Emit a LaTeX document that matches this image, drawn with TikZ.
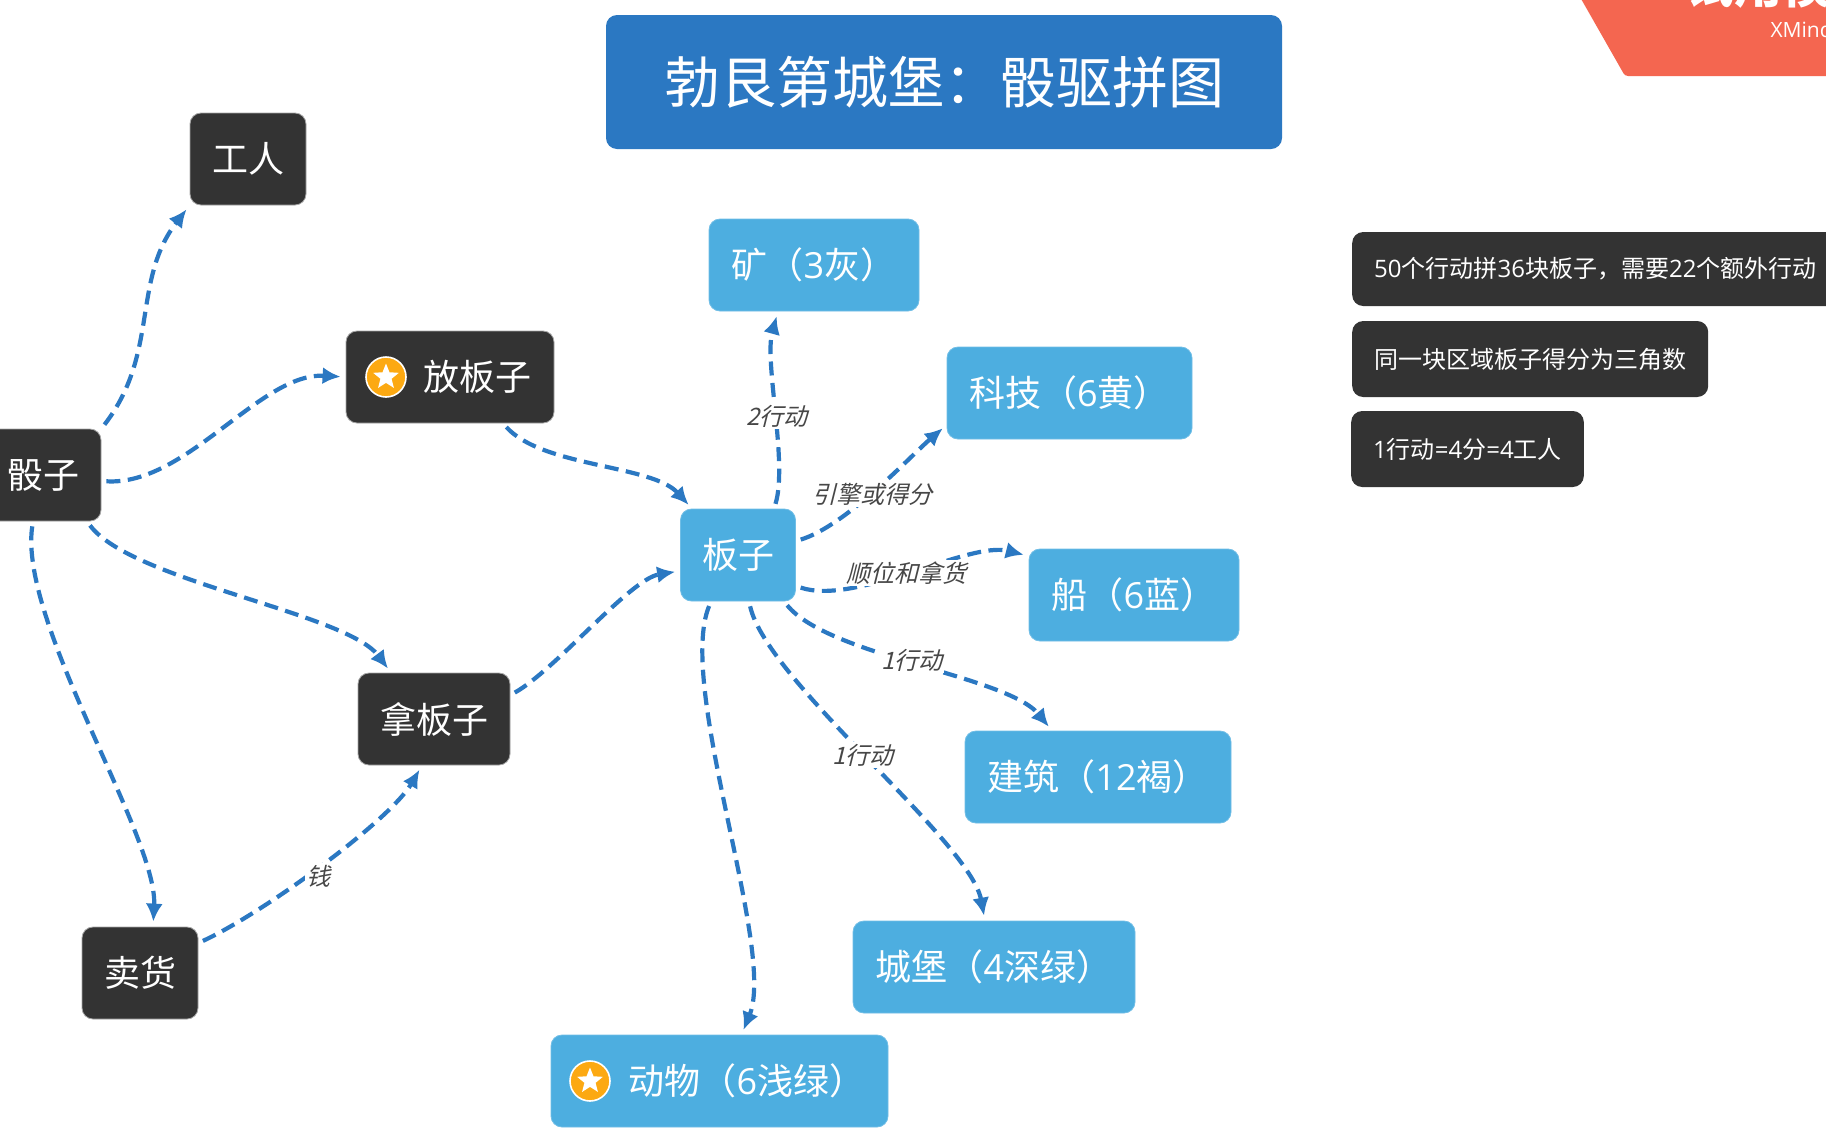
\documentclass[tikz,border=0pt]{standalone}
\usepackage{fontspec}
\setmainfont{Noto Sans CJK SC}
\newfontfamily\slantfont[FakeSlant=0.25]{Noto Sans CJK SC}
\newfontfamily\markfont{Open Sans}
\newcommand{\dg}[1]{{\markfont #1}}
\usetikzlibrary{arrows.meta,shapes.geometric}
\definecolor{boxdark}{HTML}{333333}
\definecolor{boxblue}{HTML}{4DAEE0}
\definecolor{titleblue}{HTML}{2B78C2}
\definecolor{trialred}{HTML}{F46650}
\definecolor{staryellow}{HTML}{FCA912}
\tikzset{
	x=1pt, y=-1pt,
	darkbox/.style={fill=boxdark, draw=black!35, line width=0.8pt, rounded corners=11pt, text=white, minimum height=92pt, font=\fontsize{36}{36}\selectfont, inner sep=0pt},
	bluebox/.style={fill=boxblue, draw=boxblue!80!white, line width=0.8pt, rounded corners=11pt, text=white, minimum height=92pt, font=\fontsize{36}{36}\selectfont, inner sep=0pt},
	notebox/.style={fill=boxdark, rounded corners=11pt, text=white, anchor=west, inner xsep=22pt, inner ysep=0pt, font=\fontsize{24}{24}\selectfont},
	titlebox/.style={fill=titleblue, rounded corners=11pt, text=white, minimum width=676pt, minimum height=134pt, font=\fontsize{56}{56}\selectfont},
	link/.style={draw=titleblue, line width=4.2pt, dash pattern=on 14pt off 7.5pt, -{Latex[length=18pt,width=17pt]}, shorten <=5pt, shorten >=5pt},
	linklabel/.style={fill=white, text=black!72, inner sep=1.5pt, font=\fontsize{24}{24}\slantfont},
	staricon/.style={circle, fill=staryellow, draw=white, line width=1.6pt, minimum size=40pt, inner sep=0pt},
	starmark/.style={star, star points=5, star point ratio=2.3, fill=white, minimum size=27pt, inner sep=0pt},
}
\begin{document}
\begin{tikzpicture}
		\useasboundingbox (0, 0) rectangle (1826, 1141);
		\clip (0, 0) rectangle (1826, 1141);
		\fill[white] (0, 0) rectangle (1826, 1141);
		
		% trial corner
		\fill[trialred, rounded corners=3pt] (1576, -10) -- (1625, 76) -- (1850, 76) -- (1850, -10) -- cycle;
		\node[text=white, anchor=west, font=\fontsize{48}{48}\selectfont\bfseries] (trial) at (1683, -15) {试用模式};
		\node[text=white, anchor=west, font=\fontsize{21}{21}\markfont] (xmind) at (1767, 30) {XMind};
		
		\node[titlebox] (title) at (944, 82) {勃艮第城堡：骰驱拼图};
		
		% left side
		\node[darkbox, minimum width=116] (saizi) at (43, 475) {骰子};
		\node[darkbox, minimum width=116] (gongren) at (248, 159) {工人};
		\node[darkbox, minimum width=208] (fangbanzi) at (450, 377) {\hspace{54pt}放板子};
		\node[darkbox, minimum width=152] (nabanzi) at (434, 719) {拿板子};
		\node[darkbox, minimum width=116] (maihuo) at (140, 973) {卖货};
		
		% centre and goods
		\node[bluebox, minimum width=115] (banzi) at (738, 555) {板子};
		\node[bluebox, minimum width=210] (kuang) at (814, 265) {矿（\dg{3}灰）};
		\node[bluebox, minimum width=245] (keji) at (1069.5, 393) {科技（\dg{6}黄）};
		\node[bluebox, minimum width=210] (chuan) at (1134, 595) {船（\dg{6}蓝）};
		\node[bluebox, minimum width=266] (jianzhu) at (1098, 777) {建筑（\dg{12}褐）};
		\node[bluebox, minimum width=282] (chengbao) at (994, 967) {城堡（\dg{4}深绿）};
		\node[bluebox, minimum width=337] (dongwu) at (719.5, 1081) {\hspace{55pt}动物（\dg{6}浅绿）};
		
		\node[staricon] (fangicon) at (386, 377) {};
		\node[starmark] at (fangicon) {};
		\node[staricon] (dongicon) at (590, 1081) {};
		\node[starmark] at (dongicon) {};
		
		% notes
		\node[notebox, minimum height=74] (noteone) at (1352, 269) {\dg{50}个行动拼\dg{36}块板子，需要\dg{22}个额外行动};
		\node[notebox, minimum height=76] (notetwo) at (1352, 359) {同一块区域板子得分为三角数};
		\node[notebox, minimum height=76] (notethree) at (1351, 449) {\dg{1}行动\dg{=4}分\dg{=4}工人};
		
		% connectors
		\draw[link] (saizi.north east) .. controls +(58, -75) and +(-58, 75) .. (gongren.south west);
		\draw[link] ([yshift=-6]saizi.east) .. controls +(85, 5) and +(-85, -5) .. (fangbanzi.west);
		\draw[link] ([xshift=53]fangbanzi.south) .. controls +(40, 44) and +(-40, -44) .. ([xshift=-46]banzi.north);
		\draw[link] ([xshift=44]saizi.south) .. controls +(45, 60) and +(-45, -60) .. ([xshift=-43]nabanzi.north);
		\draw[link] ([xshift=-10]saizi.south) .. controls +(-15, 100) and +(5, -90) .. ([xshift=13]maihuo.north);
		\draw[link] ([yshift=24]nabanzi.east) .. controls +(45, -25) and +(-50, 8) .. ([yshift=-16]banzi.west);
		\draw[link] ([yshift=30]maihuo.east) .. controls +(65, -30) and +(-32, 55) .. ([xshift=-12]nabanzi.south);
		
		\draw[link] ([xshift=36]banzi.north) .. controls +(14, -45) and +(-14, 50) .. ([xshift=-36]kuang.south);
		\draw[link] ([yshift=14]banzi.east) .. controls +(50, -15) and +(-35, 30) .. ([yshift=-32]keji.west);
		\draw[link] ([yshift=-31]banzi.east) .. controls +(60, 20) and +(-60, -15) .. ([yshift=39]chuan.west);
		\draw[link] ([xshift=46]banzi.south) .. controls +(45, 55) and +(-45, -55) .. ([xshift=-46]jianzhu.north);
		\draw[link] ([xshift=11]banzi.south) .. controls +(18, 80) and +(-15, -80) .. ([xshift=-9]chengbao.north);
		\draw[link] ([xshift=-27]banzi.south) .. controls +(-35, 85) and +(35, -85) .. ([xshift=22]dongwu.north);
		
		% connector labels
		\node[linklabel] (qian) at (318, 876) {钱};
		\node[linklabel] (twomoves) at (777, 416) {2行动};
		\node[linklabel] (engine) at (872, 494) {引擎或得分};
		\node[linklabel] (order) at (906, 573) {顺位和拿货};
		\node[linklabel] (onemovea) at (912, 660) {1行动};
		\node[linklabel] (onemoveb) at (863, 755) {1行动};
	\end{tikzpicture}
\end{document}
